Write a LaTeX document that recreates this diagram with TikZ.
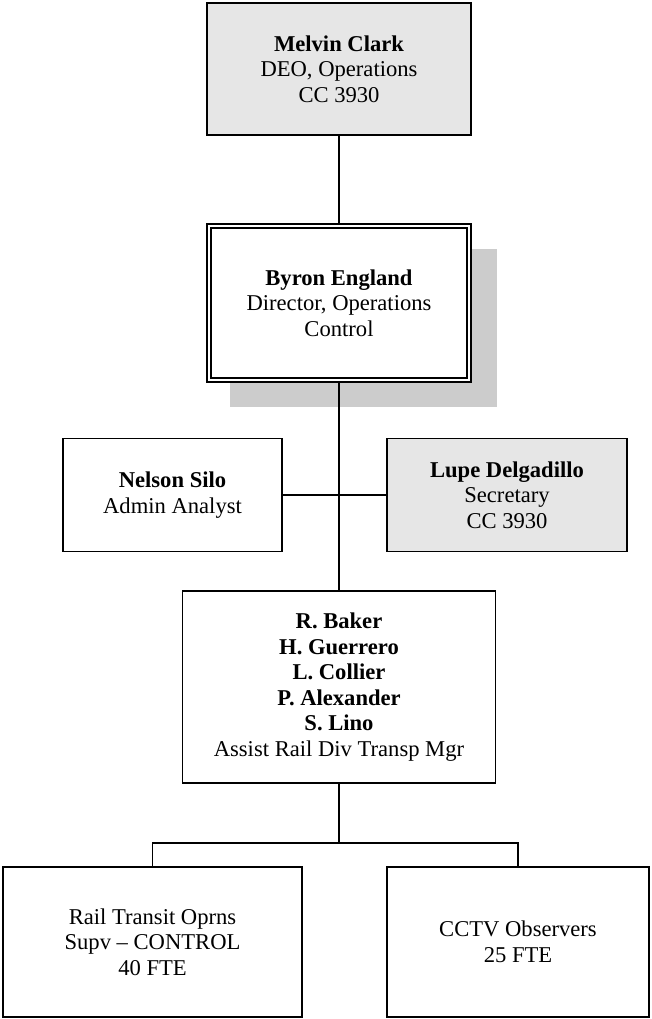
\documentclass[tikz,border=0pt]{standalone}
\usepackage{fontspec}
\setmainfont{Liberation Serif}
\definecolor{boxgray}{RGB}{230, 230, 230}
\definecolor{shadegray}{RGB}{204, 204, 204}
\usetikzlibrary{shadows, calc}

\begin{document}
\begin{tikzpicture}[x=1pt, y=-1pt,
  obox/.style={draw, line width=1.7pt, align=center, inner sep=4pt, font=\fontsize{22.6}{25.5}\selectfont},
  gbox/.style={obox, fill=boxgray},
  dbox/.style={obox, fill=white, line width=1.5pt, double, double distance=2.4pt,
    drop shadow={shadow xshift=24pt, shadow yshift=-24.5pt, shadow scale=1.027, fill=shadegray, opacity=1}},
  link/.style={draw, line width=1.7pt}
]
  \useasboundingbox (0,0) rectangle (651,1019);

  \node[gbox, minimum width=264pt, minimum height=132pt] (melvin) at (339, 69) {\textbf{Melvin Clark}\\DEO, Operations\\CC 3930};
  \node[dbox, minimum width=260pt, minimum height=154pt] (byron) at (339, 303) {\textbf{Byron England}\\Director, Operations\\Control};
  \node[obox, minimum width=219pt, minimum height=113pt] (nelson) at (172.5, 495) {\textbf{Nelson Silo}\\Admin Analyst};
  \node[gbox, minimum width=240pt, minimum height=113pt] (lupe) at (507, 495) {\textbf{Lupe Delgadillo}\\Secretary\\CC 3930};
  \node[obox, minimum width=313pt, minimum height=192pt] (baker) at (339, 687) {\textbf{R. Baker}\\\textbf{H. Guerrero}\\\textbf{L. Collier}\\\textbf{P. Alexander}\\\textbf{S. Lino}\\Assist Rail Div Transp Mgr};
  \node[obox, minimum width=299pt, minimum height=150pt] (railops) at (152.5, 942) {Rail Transit Oprns\\Supv -- CONTROL\\40 FTE};
  \node[obox, minimum width=262pt, minimum height=150pt] (cctv) at (518, 942) {CCTV Observers\\25 FTE};

  \coordinate (fork) at (339, 843);

  \path[link] (melvin.south) -- (byron.north);
  \path[link] (byron.south) -- (baker.north);
  \path[link] (nelson.east) -- (lupe.west);
  \path[link] (baker.south) -- (fork);
  \path[link] (railops.north) |- (fork) -| (cctv.north);
\end{tikzpicture}
\end{document}
